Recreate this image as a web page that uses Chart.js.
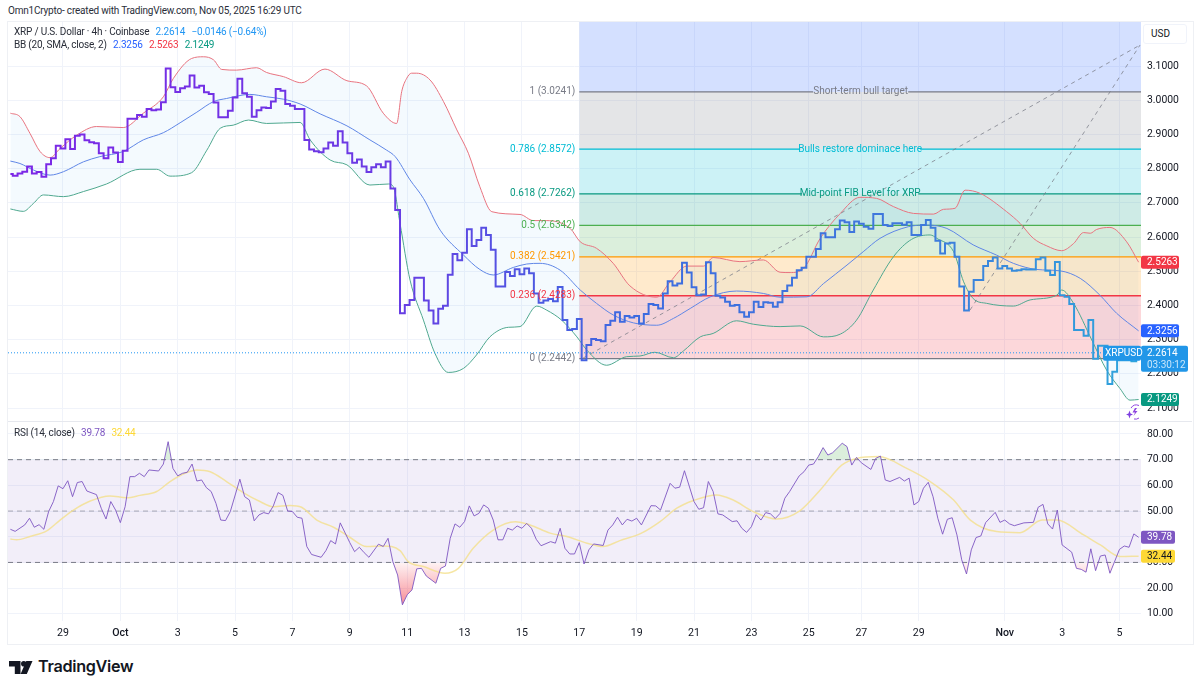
<!DOCTYPE html>
<html>
<head>
<meta charset="utf-8">
<title>XRP / U.S. Dollar</title>
<script src="https://cdn.jsdelivr.net/npm/chart.js@4/dist/chart.umd.min.js"></script>
<style>
html,body{margin:0;padding:0;background:#fff;width:1200px;height:691px;overflow:hidden;font-family:Roboto,sans-serif;color:#131722}
.abs{position:absolute;white-space:nowrap}
canvas{position:absolute;left:0}
#frame{position:absolute;left:7px;top:21px;width:1185px;height:622px;border:1px solid #eef0f4;box-sizing:content-box}
#divider{position:absolute;left:8px;top:421px;width:1184px;height:1px;background:#e6e8ee}
#credit{left:8px;top:5px;font-size:10px;letter-spacing:-.2px;color:#2a2e39}
#leg1{left:14px;top:26px;font-size:10px;letter-spacing:-.2px;color:#2a2e39}
#leg2{left:14px;top:39px;font-size:10px;letter-spacing:-.2px;color:#2a2e39}
#leg3{left:14px;top:427px;font-size:10px;letter-spacing:-.2px;color:#2a2e39}
.v{margin-left:4px}
#usd{left:1143px;top:24px;width:44px;height:20px;border:1px solid #f0f3fa;border-radius:3px;box-sizing:border-box;font-size:10px;line-height:18px;padding-left:7px;background:#fff;color:#131722}
#tvword{left:38px;top:656px;font-family:Inter,sans-serif;font-weight:600;font-size:16.2px;letter-spacing:-.3px;color:#131722}
</style>
</head>
<body>
<div id="frame"></div>
<div class="abs" id="credit">Omn1Crypto- created with TradingView.com, Nov 05, 2025 16:29 UTC</div>
<canvas id="priceChart" width="1190" height="399" style="top:22px"></canvas>
<canvas id="rsiChart" width="1190" height="223" style="top:422px"></canvas>
<div id="divider"></div>
<div class="abs" id="leg1">XRP / U.S. Dollar · 4h · Coinbase <span class="v" style="color:#2196f3">2.2614</span> <span class="v" style="color:#2196f3">−0.0146 (−0.64%)</span></div>
<div class="abs" id="leg2">BB (20, SMA, close, 2) <span class="v" style="color:#2962ff">2.3256</span> <span class="v" style="color:#f23645">2.5263</span> <span class="v" style="color:#089981">2.1249</span></div>
<div class="abs" id="leg3">RSI (14, close) <span class="v" style="color:#7e57c2">39.78</span> <span class="v" style="color:#fdd835">32.44</span></div>
<div class="abs" id="usd">USD</div>
<svg class="abs" style="left:9px;top:661px" width="24" height="13" viewBox="0 0 24 13"><path d="M0 0H11.5V13H5.8V5.5H0Z M23.5 0L17.8 13H11.6L17.3 0Z" fill="#131722"/><circle cx="14.8" cy="2.8" r="2.8" fill="#131722"/></svg>
<div class="abs" id="tvword">TradingView</div>
<svg class="abs" style="left:1126px;top:403px" width="17" height="17" viewBox="0 0 17 17"><path d="M9 5L6.5 9.5H9L7.5 13L11.5 8H9L11 5Z" fill="#8e44e0"/><path d="M3.5 7.5L4.5 10.5L7 11.5L4.5 12.5L3.5 15.5L2.5 12.5L0 11.5L2.5 10.5Z" fill="#7e3fe0"/><path d="M5 5A6.5 6.5 0 0 1 13 2.5M8 16A6 6 0 0 0 13 15" fill="none" stroke="#8e44e0" stroke-width="1"/></svg>
<script>
var tickBars=[11,23,35,47,59,71,83,95,107,119,131,143,155,167,178,190,208,220,232];
var tickLabels=['29','Oct','3','5','7','9','11','13','15','17','19','21','23','25','27','29','Nov','3','5'];
var priceTicks=[2.1,2.2,2.3,2.4,2.5,2.6,2.7,2.8,2.9,3.0,3.1];
var rsiTicks=[10,20,30,40,50,60,70,80];

// 4h closes, one per bar
var closeValues=[
2.784,2.779,2.786,2.791,2.806,2.786,2.790,2.776,2.813,2.830,2.867,2.859,2.886,2.857,2.896,2.900,2.883,2.877,2.874,2.845,
2.830,2.862,2.847,2.819,2.852,2.946,2.946,2.957,2.952,2.974,2.971,2.973,2.994,3.093,3.038,3.024,3.035,3.040,3.072,3.037,
3.042,3.023,3.018,2.993,2.950,2.950,2.969,3.008,3.063,3.020,3.010,2.952,2.971,2.979,2.977,2.996,3.033,3.028,2.989,2.984,
2.974,2.974,2.884,2.856,2.851,2.848,2.859,2.876,2.867,2.909,2.876,2.845,2.817,2.827,2.806,2.790,2.804,2.813,2.804,2.821,
2.742,2.679,
2.377,2.401,2.416,2.481,2.481,2.414,2.385,2.347,2.390,2.399,2.490,2.550,2.532,2.554,2.623,2.574,2.591,2.627,2.606,2.563,
2.455,2.455,2.498,2.486,2.506,2.491,2.508,2.494,2.435,2.408,2.414,2.419,2.412,2.454,2.357,2.328,2.331,2.360,2.240,2.284,
2.302,2.299,2.295,2.343,2.355,2.380,2.352,2.369,2.365,2.369,2.347,2.375,2.404,2.401,2.391,2.435,2.471,2.458,2.464,2.525,
2.496,2.453,2.430,2.432,2.526,2.494,2.428,2.423,2.411,2.399,2.401,2.380,2.367,2.380,2.411,2.395,2.409,2.408,2.396,2.409,
2.442,2.458,2.481,2.503,2.510,2.542,2.542,2.565,2.611,2.599,2.599,2.623,2.648,2.643,2.615,2.645,2.639,2.630,2.624,2.667,
2.667,2.635,2.632,2.640,2.640,2.636,2.643,2.606,2.606,2.635,2.650,2.627,2.589,2.552,2.581,2.583,2.542,2.455,2.385,2.440,
2.474,2.474,2.515,2.530,2.540,2.508,2.515,2.508,2.501,2.503,2.506,2.505,2.505,2.535,2.540,2.501,2.489,2.527,2.430,2.425,
2.404,2.328,2.328,2.311,2.357,2.244,2.282,2.282,2.170,2.206,2.240,2.240,2.240,2.237,2.2614];

var upperBars=[0,2,4.1,6.2,8.3,10.4,13.9,18,23.6,27.8,32,34.1,37.9,40.4,42.5,44.2,47.3,51.5,53.6,57.1,60.9,65.8,70.4,74.5,78,80.8,
81.85,82.9,83.9,85,87.8,90.6,93.4,95.8,98.2,100.7,
106.6,109.4,112.2,117.1,119.2,122.6,126.1,129.6,135.2,138,141.5,145,147,152.6,157.5,161,
163.1,165.9,169.4,173.6,177.7,181.2,184.7,188.9,193.1,195.2,197.6,199.7,202.8,208.4,211.2,214,216.8,219.9,222.4,224.5,225.9,227.2,230,233.5,236];
var upperValues=[2.962,2.952,2.903,2.850,2.832,2.859,2.898,2.923,2.920,2.962,3.010,3.064,3.122,3.127,3.118,3.090,3.088,3.095,3.081,3.069,3.051,3.091,3.057,3.042,2.962,2.932,
3.025,3.064,3.079,3.079,3.059,2.996,2.913,2.845,2.747,2.674,
2.666,2.648,2.648,2.625,2.586,2.567,2.523,2.457,2.424,2.469,2.515,2.515,2.540,2.528,2.533,2.497,
2.496,2.508,2.596,2.669,2.716,2.713,2.689,2.669,2.667,2.681,2.684,2.737,2.728,2.674,2.640,2.596,2.574,2.560,2.581,2.613,2.611,2.622,2.628,2.586,2.5263];

var basisBars=[0,2,4.8,8.3,11.1,15.3,18.7,23.6,27.8,32,35.5,39,42.5,45.2,50.1,53.6,57.1,60.6,64.8,70.4,75.2,78.7,80.5,83.6,86.4,89.9,
94.8,98.2,101,105.2,108,110.8,115,119.2,122.6,126.1,130.3,135.2,138.7,142.2,146.4,151.9,157.5,161,
166.6,170.1,175,178.4,181.9,187.8,191.7,195.9,201.4,206.3,209.8,214.7,219.6,223.8,227.9,231.4,236];
var basisValues=[2.822,2.815,2.796,2.781,2.791,2.820,2.835,2.850,2.884,2.905,2.934,2.965,2.996,3.005,3.017,3.010,3.003,2.989,2.960,2.925,2.884,2.854,2.835,2.767,2.713,2.620,
2.547,2.505,2.489,2.511,2.521,2.523,2.503,2.445,2.406,2.372,2.349,2.342,2.362,2.391,2.425,2.442,2.435,2.424,
2.425,2.464,2.518,2.557,2.596,2.630,2.635,2.625,2.577,2.547,2.523,2.505,2.501,2.479,2.430,2.377,2.3256];

var lowerBars=[0,2.7,4.8,6.9,11.1,15.3,20.1,27.1,30.6,33.4,37.9,41.1,43.9,46.6,49.8,53.6,60.6,62.7,66.9,70.4,75.2,79.1,
80.1,81.5,83.6,86.4,88.8,91.6,94.8,97.5,100.3,104.2,106.6,110.1,112.2,115.3,118.5,120.6,124.7,128.9,131.7,134.8,138.7,140.8,144.3,147,151.9,155.4,161,
165.2,170.1,173.6,177,180.5,184.7,188.5,192.4,193.8,197.3,199.4,201.4,204.2,209.8,213.3,218.9,219.9,222.4,226.2,229.3,232.1,234.2,236];
var lowerValues=[2.682,2.675,2.698,2.723,2.718,2.733,2.755,2.798,2.798,2.778,2.788,2.854,2.918,2.927,2.942,2.932,2.935,2.884,2.825,2.811,2.752,2.755,
2.747,2.640,2.474,2.357,2.260,2.204,2.216,2.255,2.308,2.336,2.338,2.398,2.386,2.357,2.308,2.269,2.225,2.250,2.252,2.263,2.247,2.267,2.308,2.318,2.355,2.345,2.338,
2.340,2.308,2.316,2.357,2.445,2.542,2.593,2.606,2.596,2.557,2.469,2.420,2.406,2.398,2.416,2.430,2.445,2.406,2.299,2.211,2.157,2.123,2.1249];

var rsiBars=[0,1,3,4,5,6,7,8,9,10,11,12,13,14,15,16,18,19,20,21,22,23,24,25,26,27,28,29,31,32,33,34,35,36,37,38,39,40,41,42,43,44,45,46,48,49,50,51,52,53,54,55,56,57,58,59,60,61,62,63,65,66,67,68,69,71,72,73,74,75,77,78,79,80,81,82,
83,84,85,86,87,89,90,91,92,93,94,95,96,97,98,99,100,101,102,103,104,105,106,107,108,109,110,111,113,114,115,116,117,118,119,120,121,122,124,125,126,127,128,129,130,131,132,134,135,136,138,139,140,141,143,144,145,146,147,148,149,151,152,153,154,155,156,157,158,159,160,161,162,163,165,
166,167,168,169,170,171,172,174,175,176,177,178,180,181,182,183,184,186,187,188,189,190,191,192,193,194,195,196,197,198,199,200,201,202,203,204,206,207,208,209,210,212,214,215,216,217,218,219,220,222,223,224,225,226,227,228,229,230,232,233,234,235,236];
var rsiValues=[42.9,42.1,44.6,47.2,43.7,44.7,42.9,49.8,53.7,59.8,58.7,61.8,55.6,61.1,61.5,57.8,56.4,51.1,46.9,53.7,50.4,45.5,51.7,63.4,63.4,64.7,63.4,66,65.6,68.3,77,66.6,63.7,64.7,65.1,68.3,61.7,62.1,59.1,57.6,53,46.5,46.3,49.8,62.4,55.6,54.3,46.2,48.5,49.4,48.9,52,57.2,56.1,50,49.8,47.6,47.2,36.2,33.1,32,34.6,38.5,37.2,45.4,37.7,34.2,35.9,33.8,32,37.1,36.2,39.4,30.3,25.1,13.5,
17.4,19.3,27.5,27.7,24.7,21.9,27.7,28.6,39.4,45,43.7,45.9,52,48.1,49.1,52.4,51.1,46.5,38.8,38.8,43.3,42.6,44.2,43.3,45.2,43.3,39,36.5,38.1,37.5,43.3,35.5,33.3,33.3,37.7,29.4,34.9,37.2,36.6,42.6,44.6,47.6,44.6,46.8,46.1,47.2,44.6,52.1,52,50.4,60.8,58.9,59.3,65.7,53.7,50.7,51.3,61.5,57.6,48.9,48.5,45.9,46.2,43.3,41.7,43.9,48.6,46.5,49.4,48.9,47.1,49.1,55,57.6,63.7,
65.3,67.9,68.3,71.2,74.7,71.8,72.7,76.4,75.1,67.9,70.9,68.8,66.2,70.5,71.4,62.1,61.5,63.1,61.7,62.8,52.4,53.7,58.9,61.2,55.6,47.2,41,46.8,47.4,40.7,31,25.5,34.9,39.7,40.3,45.5,49.5,45.6,46.5,45,44.3,45.4,45.6,51.5,52.6,45,43,50.4,36.8,34,27.7,27.3,26.2,35.3,26.8,32.5,32.9,25.8,35.1,36.4,35.9,41.1,39.78];

var rsiMaBars=[0,1.3,4.1,7.6,10.4,13.2,16.7,20.8,24.3,27.1,30.6,33.4,36.9,39,41.8,45.2,48.7,52.2,55,58.5,60.9,64.1,67.6,71,74.5,78,81.5,
83.2,86.4,90.9,93.7,96.8,101,105.6,108.7,112.9,116.4,120.6,124,127.5,132,135.9,139.4,142.9,147.7,151.2,155.4,160.3,165.2,
169.4,173.9,177,181.6,187.5,192.4,197.3,200.8,206.3,211.2,215.8,218.9,224.5,228,232.1,236];
var rsiMaValues=[39.1,38.8,40.1,42.3,46.5,50.4,53.9,55.9,55.2,56.1,57.6,61.5,65,66,65.3,61.5,57.2,53.7,51.7,52.2,51.5,46.5,43.7,39.8,36.2,36.4,34.6,
30.3,28.4,25.8,27.7,35.5,42.6,45.8,44.6,41.4,40.1,37.5,36.2,38.5,41.4,45.9,51.1,54.1,56.3,54.3,49.8,46.9,50.2,
58.2,67.9,70.5,71.2,66.6,61.5,54.3,46.5,42,41.6,46.5,46.5,40.7,36.8,32.3,32.44];

// fib retracement, bottom level first
var fibRatios=['0','0.236','0.382','0.5','0.618','0.786','1'];
var fibPrices=[2.2442,2.4283,2.5421,2.6342,2.7262,2.8572,3.0241];
var fibColors=['#787b86','#f23645','#ff9800','#4caf50','#089981','#00bcd4','#787b86'];
var fibFills=['rgba(242,54,69,.2)','rgba(255,152,0,.2)','rgba(76,175,80,.2)','rgba(8,153,129,.2)','rgba(0,188,212,.2)','rgba(120,123,134,.2)','rgba(41,98,255,.2)'];
var fibStart=119,fibEnd=236.5;
var fibNotes={'0.618':['Mid-point FIB Level for XRP',165.6,189.9],'0.786':['Bulls restore dominace here',165.2,190.3],'1':['Short-term bull target',167.9,187.8]};
var trendA=[[119.8,2.246],[236.3,3.1614]];
var trendB=[[200.75,2.3866],[236.3,3.1614]];

var lastClose=2.2614,lastBasis=2.3256,lastUpper=2.5263,lastLower=2.1249,lastRsi=39.78,lastRsiMa=32.44;
var barMin=-0.5,barMax=236.5,priceMin=2.062,priceMax=3.2287,rsiMin=7.2,rsiMax=84.67;

var TICK_FONT='Roboto,sans-serif';
var GRID='#f0f3fa';
Chart.defaults.font.family=TICK_FONT;

function pts(xs,ys){return xs.map(function(x,i){return{x:x,y:ys[i]};});}
function line(a,b,v){return[{x:a,y:v},{x:b,y:v}];}

function closeGradient(c){
  var ch=c.chart;
  if(!ch.chartArea)return'#3f6fe0';
  var g=ch.ctx.createLinearGradient(ch.chartArea.left,0,ch.chartArea.right,0);
  g.addColorStop(0,'#7c26e6');
  g.addColorStop(0.33,'#6a3ae4');
  g.addColorStop(0.55,'#3c6be0');
  g.addColorStop(0.8,'#3f78dc');
  g.addColorStop(1,'#2ea6dc');
  return g;
}

function noPad(a){a.paddingLeft=0;a.paddingRight=0;a.paddingTop=0;a.paddingBottom=0;}

function tag(ctx,x,y,w,h,color,text,textColor){
  ctx.fillStyle=color;
  ctx.beginPath();
  ctx.roundRect(x,y-h/2,w,h,2);
  ctx.fill();
  ctx.fillStyle=textColor||'#fff';
  ctx.font='10px '+TICK_FONT;
  ctx.textAlign='left';
  ctx.textBaseline='middle';
  ctx.fillText(text,x+6,y+.5);
}

var fibLabelPlugin={
  id:'fibLabels',
  afterDatasetsDraw:function(chart){
    var ctx=chart.ctx,x=chart.scales.x,y=chart.scales.y;
    ctx.save();
    ctx.font='10px '+TICK_FONT;
    ctx.textBaseline='middle';
    var left=x.getPixelForValue(fibStart)-4;
    fibPrices.forEach(function(p,i){
      ctx.fillStyle=fibColors[i];
      ctx.textAlign='right';
      ctx.fillText(fibRatios[i]+' ('+p.toFixed(4)+')',left,y.getPixelForValue(p));
      var n=fibNotes[fibRatios[i]];
      if(n){
        ctx.textAlign='center';
        ctx.fillText(n[0],x.getPixelForValue((n[1]+n[2])/2),y.getPixelForValue(p));
      }
    });
    ctx.restore();
  },
  afterDraw:function(chart){
    var ctx=chart.ctx,y=chart.scales.y,r=chart.chartArea.right;
    ctx.save();
    tag(ctx,r,y.getPixelForValue(lastUpper),38,13,'#f23645',lastUpper.toFixed(4));
    tag(ctx,r,y.getPixelForValue(lastBasis),38,13,'#2962ff',lastBasis.toFixed(4));
    tag(ctx,r,y.getPixelForValue(lastLower),38,13,'#089981',lastLower.toFixed(4));
    var py=y.getPixelForValue(lastClose);
    ctx.fillStyle='#2196e8';
    ctx.beginPath();ctx.roundRect(r-38,py-7,38,15,2);ctx.fill();
    ctx.beginPath();ctx.roundRect(r,py-7,47,26,2);ctx.fill();
    ctx.fillStyle='#fff';
    ctx.font='10px '+TICK_FONT;
    ctx.textBaseline='middle';
    ctx.textAlign='left';
    ctx.fillText('XRPUSD',r-36,py+.5);
    ctx.fillText(lastClose.toFixed(4),r+6,py+.5);
    ctx.fillStyle='#c8e6fb';
    ctx.fillText('03:30:12',r+6,py+12.5);
    ctx.restore();
  }
};

var rsiTagPlugin={
  id:'rsiTags',
  afterDraw:function(chart){
    var ctx=chart.ctx,y=chart.scales.y,r=chart.chartArea.right;
    ctx.save();
    tag(ctx,r,y.getPixelForValue(lastRsi),34,13,'#7e57c2',lastRsi.toFixed(2));
    tag(ctx,r,y.getPixelForValue(lastRsiMa),34,13,'#fdd835',lastRsiMa.toFixed(2),'#131722');
    ctx.restore();
  }
};

function xAxis(showLabels){
  return{
    type:'linear',min:barMin,max:barMax,
    afterBuildTicks:function(a){a.ticks=tickBars.map(function(v){return{value:v};});},
    afterFit:function(a){a.height=showLabels?24:0;noPad(a);},
    border:{display:false},
    grid:{color:GRID,drawTicks:false},
    ticks:{
      display:showLabels,autoSkip:false,maxRotation:0,padding:6,color:'#131722',
      font:function(c){var t=c.tick&&tickLabels[tickBars.indexOf(c.tick.value)];return{size:10.6,weight:(t==='Oct'||t==='Nov')?'500':'400'};},
      callback:function(v){return tickLabels[tickBars.indexOf(v)];}
    }
  };
}
function yAxis(lo,hi,list,digits){
  return{
    type:'linear',position:'right',min:lo,max:hi,
    afterBuildTicks:function(a){a.ticks=list.map(function(v){return{value:v};});},
    afterFit:function(a){a.width=49;noPad(a);},
    border:{display:false},
    grid:{color:GRID,drawTicks:false},
    ticks:{autoSkip:false,padding:6,color:'#131722',font:{size:10.4},callback:function(v){return v.toFixed(digits);}}
  };
}
var baseOpts={
  responsive:false,animation:false,devicePixelRatio:1,events:[],
  layout:{autoPadding:false,padding:{left:8,right:0,top:0,bottom:0}},
  plugins:{legend:{display:false},tooltip:{enabled:false}},
  elements:{point:{radius:0}}
};

var priceSets=[];
priceSets.push({data:closeValues.map(function(v,i){return{x:i,y:v};}),stepped:'middle',borderColor:closeGradient,borderWidth:2,borderJoinStyle:'miter',order:1});
priceSets.push({data:line(barMin,barMax,lastClose),borderColor:'#2196f3',borderWidth:1,borderDash:[1,2],order:2});
priceSets.push({data:pts(basisBars,basisValues),borderColor:'#5f86e6',borderWidth:1,cubicInterpolationMode:'monotone',order:3});
priceSets.push({data:trendA.map(function(p){return{x:p[0],y:p[1]};}),borderColor:'rgba(120,123,134,.75)',borderWidth:1,borderDash:[4,4],order:3});
priceSets.push({data:trendB.map(function(p){return{x:p[0],y:p[1]};}),borderColor:'rgba(120,123,134,.75)',borderWidth:1,borderDash:[4,4],order:3});
// band fill sits under the fib zones, the next dataset has to be the lower line
priceSets.push({data:pts(upperBars,upperValues),borderWidth:0,borderColor:'transparent',cubicInterpolationMode:'monotone',fill:'+1',backgroundColor:'rgba(33,150,243,.05)',order:9});
priceSets.push({data:pts(lowerBars,lowerValues),borderColor:'#4fa88f',borderWidth:1,cubicInterpolationMode:'monotone',order:3});
priceSets.push({data:pts(upperBars,upperValues),borderColor:'#e8737f',borderWidth:1,cubicInterpolationMode:'monotone',order:3});
fibPrices.forEach(function(p,i){
  var n=fibNotes[fibRatios[i]];
  var d=n?[{x:fibStart,y:p},{x:n[1],y:p},{x:n[1],y:null},{x:n[2],y:p},{x:fibEnd,y:p}]:line(fibStart,fibEnd,p);
  priceSets.push({data:d,borderColor:fibColors[i],borderWidth:1.3,order:4});
  var top=i<fibPrices.length-1?fibPrices[i+1]:priceMax;
  priceSets.push({data:line(fibStart,fibEnd,top),borderWidth:0,borderColor:'transparent',backgroundColor:fibFills[i],fill:{value:p},order:5});
});

new Chart(document.getElementById('priceChart'),{
  type:'line',
  data:{datasets:priceSets},
  options:Object.assign({},baseOpts,{scales:{x:xAxis(false),y:yAxis(priceMin,priceMax,priceTicks,4)}}),
  plugins:[fibLabelPlugin]
});

var rsiPts=pts(rsiBars,rsiValues);
var rsiSets=[
  {data:rsiPts,borderColor:'rgba(126,87,194,.9)',borderWidth:1,order:1},
  {data:pts(rsiMaBars,rsiMaValues),borderColor:'rgba(244,224,140,.8)',borderWidth:1.5,cubicInterpolationMode:'monotone',order:2},
  {data:rsiPts,borderWidth:0,borderColor:'transparent',fill:{target:{value:70},above:'rgba(76,175,80,.2)',below:'transparent'},order:6},
  {data:rsiPts,borderWidth:0,borderColor:'transparent',fill:{target:{value:30},above:'transparent',below:'rgba(242,54,69,.35)'},order:6},
  {data:line(barMin,barMax,70),borderColor:'#787b86',borderWidth:1,borderDash:[5,4],order:3},
  {data:line(barMin,barMax,50),borderColor:'rgba(120,123,134,.6)',borderWidth:1,borderDash:[5,4],order:3},
  {data:line(barMin,barMax,30),borderColor:'#787b86',borderWidth:1,borderDash:[5,4],order:3},
  {data:line(barMin,barMax,70),borderWidth:0,borderColor:'transparent',backgroundColor:'rgba(126,87,194,.1)',fill:{value:30},order:7}
];
var rsiChart=new Chart(document.getElementById('rsiChart'),{
  type:'line',
  data:{datasets:rsiSets},
  options:Object.assign({},baseOpts,{scales:{x:xAxis(true),y:yAxis(rsiMin,rsiMax,rsiTicks,2)}}),
  plugins:[rsiTagPlugin]
});
// oversold area fades out towards the 30 line
var ys=rsiChart.scales.y;
var pink=rsiChart.ctx.createLinearGradient(0,ys.getPixelForValue(30),0,ys.getPixelForValue(14));
pink.addColorStop(0,'rgba(242,54,69,.06)');
pink.addColorStop(1,'rgba(242,54,69,.55)');
rsiSets[3].fill.below=pink;
rsiChart.update('none');
</script>
</body>
</html>
